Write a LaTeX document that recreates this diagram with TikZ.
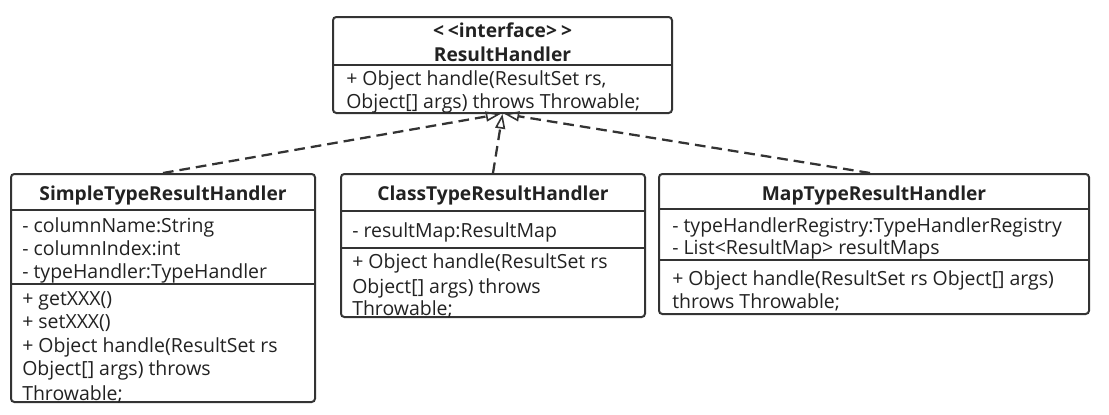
\documentclass[tikz,border=0pt]{standalone}
\usepackage{fontspec}
\setmainfont{Open Sans}
\usetikzlibrary{arrows.meta,fit}
\definecolor{linec}{HTML}{333333}
\definecolor{textc}{HTML}{222222}
\begin{document}
\begin{tikzpicture}[x=0.75pt,y=-0.75pt,
  box/.style={draw=linec, line width=1.5pt, rounded corners=2.5pt, inner sep=0pt},
  txt/.style={anchor=base west, inner sep=0pt, font=\fontsize{14.6}{17}\selectfont, text=textc},
  ttl/.style={anchor=base, inner sep=0pt, font=\fontsize{14.4}{17}\selectfont\bfseries, text=textc},
  sep/.style={draw=linec, line width=1.5pt},
  dep/.style={draw=linec, line width=1.7pt, dash pattern=on 8pt off 4.5pt,
    -{Triangle[open,length=11pt,width=7.5pt,line width=1.2pt]}}
]
\useasboundingbox (0,0) rectangle (1109,414);
\fill[white] (0,0) rectangle (1109,414);

% interface box
\node[box, fit={(333,17) (672,113)}] (top) {};
\draw[sep] (333,65) -- (672,65);
\node[ttl] (t1) at (502.5,37) {<\kern3pt<interface>\kern3pt>};
\node[ttl] (t2) at (502.5,61) {ResultHandler};
\node[txt] (t3) at (346,85) {+ Object handle(ResultSet rs,};
\node[txt] (t4) at (346,108) {Object[] args) throws Throwable;};

% simple
\node[box, fit={(11,174) (315,402)}] (simple) {};
\draw[sep] (11,210) -- (315,210);
\draw[sep] (11,284) -- (315,284);
\node[ttl] (s0) at (163,200) {SimpleTypeResultHandler};
\node[txt] (s1) at (22,232) {- columnName:String};
\node[txt] (s2) at (22,255) {- columnIndex:int};
\node[txt] (s3) at (22,278) {- typeHandler:TypeHandler};
\node[txt] (s4) at (22,305) {+ getXXX()};
\node[txt] (s5) at (22,328) {+ setXXX()};
\node[txt] (s6) at (22,352) {+ Object handle(ResultSet rs};
\node[txt] (s7) at (22,375) {Object[] args) throws};
\node[txt] (s8) at (22,400) {Throwable;};

% class
\node[box, fit={(341,174) (645,317)}] (class) {};
\draw[sep] (341,211) -- (645,211);
\draw[sep] (341,248) -- (645,248);
\node[ttl] (c0) at (493,200) {ClassTypeResultHandler};
\node[txt] (c1) at (352,237) {- resultMap:ResultMap};
\node[txt] (c2) at (352,268) {+ Object handle(ResultSet rs};
\node[txt] (c3) at (352,293) {Object[] args) throws};
\node[txt] (c4) at (352,315) {Throwable;};

% map
\node[box, fit={(659,174) (1089,314)}] (map) {};
\draw[sep] (659,209) -- (1089,209);
\draw[sep] (659,260) -- (1089,260);
\node[ttl] (m0) at (874,200) {MapTypeResultHandler};
\node[txt] (m1) at (672,232) {- typeHandlerRegistry:TypeHandlerRegistry};
\node[txt] (m2) at (672,254) {- List<ResultMap> resultMaps};
\node[txt] (m3) at (672,285) {+ Object handle(ResultSet rs Object[] args)};
\node[txt] (m4) at (672,308) {throws Throwable;};

% connectors
\draw[dep] (simple.north) -- ([xshift=-1.5pt]top.south);
\draw[dep] (class.north) -- (top.south);
\draw[dep] ([xshift=-3pt]map.north) -- ([xshift=1.5pt]top.south);
\end{tikzpicture}
\end{document}
